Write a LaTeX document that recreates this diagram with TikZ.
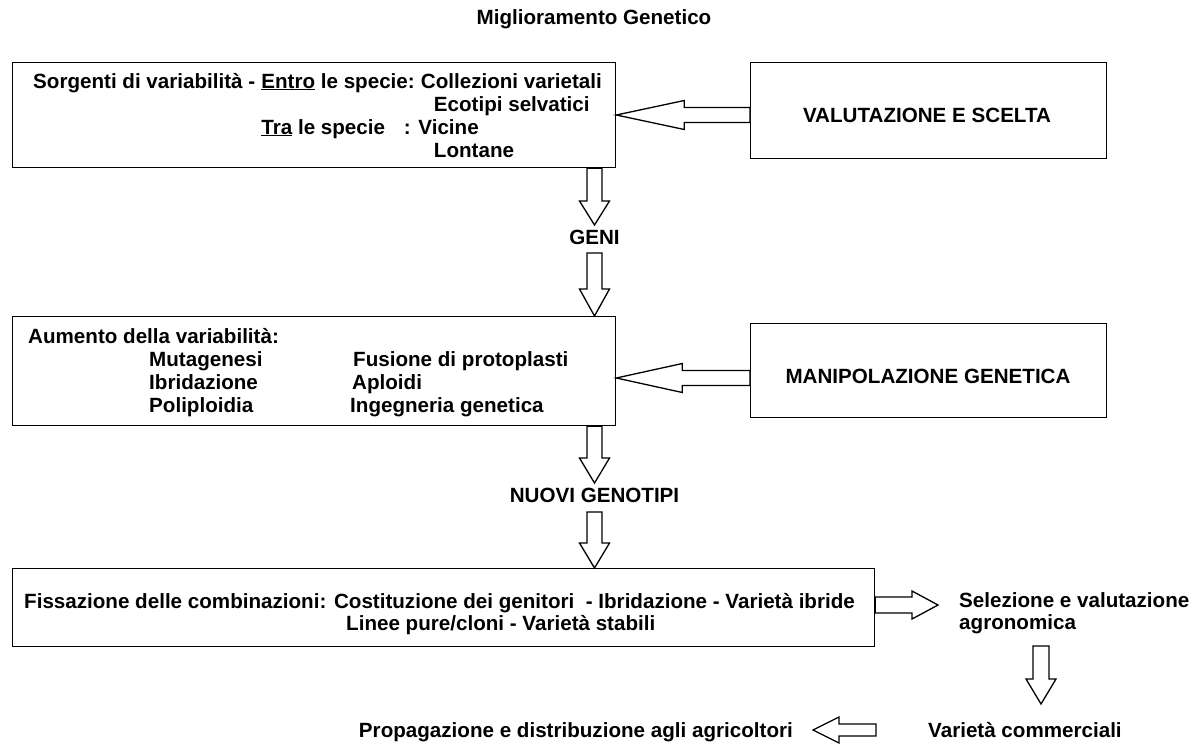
\documentclass[tikz,border=0pt]{standalone}
\usepackage{fontspec}
\setmainfont{Liberation Sans}
\usetikzlibrary{calc}
\newcommand\hollowarrow[5]{%
 \draw[barrow] let \p1=(#1), \p2=(#2), \n1={atan2(\y2-\y1,\x2-\x1)}, \n2={veclen(\x2-\x1,\y2-\y1)-#3} in
 ($(\p1)+(\n1+90:#5pt)$) -- ($(\p1)+(\n1:{\n2*1pt})+(\n1+90:#5pt)$) -- ($(\p1)+(\n1:{\n2*1pt})+(\n1+90:#4pt)$) -- (\p2) -- ($(\p1)+(\n1:{\n2*1pt})+(\n1-90:#4pt)$) -- ($(\p1)+(\n1:{\n2*1pt})+(\n1-90:#5pt)$) -- ($(\p1)+(\n1-90:#5pt)$) -- cycle;}
\def\spw{5.73pt}
\tikzset{
 txt/.style={inner sep=0pt, anchor=base west, font=\bfseries\fontsize{20.6}{23}\selectfont},
 ctxt/.style={inner sep=0pt, anchor=center, font=\bfseries\fontsize{20.6}{23}\selectfont},
 boxst/.style={draw, line width=1.3pt, inner sep=0pt, anchor=north west},
 barrow/.style={draw, line width=1.3pt, fill=white, line join=miter},
}
\begin{document}
\begin{tikzpicture}[x=1pt, y=-1pt]
\useasboundingbox (0,0) rectangle (1199,744);
% title
\node[txt, anchor=base] (title) at (594,24) {Miglioramento Genetico};
% boxes
\node[boxst, minimum width=603pt, minimum height=105pt] (b1) at (12,62) {};
\node[boxst, minimum width=356pt, minimum height=96pt] (val) at (750,62) {};
\node[boxst, minimum width=603pt, minimum height=109pt] (b2) at (12,316) {};
\node[boxst, minimum width=356pt, minimum height=94pt] (man) at (750,323) {};
\node[boxst, minimum width=862pt, minimum height=78pt] (b3) at (12,568) {};
% box 1 text
\node[txt] (s1) at (33,88) {Sorgenti di variabilità -};
\node[txt] (s2) at ([xshift=\spw]s1.base east) {\underline{Entro} le specie:};
\node[txt] (s3) at ([xshift=\spw]s2.base east) {Collezioni varietali};
\node[txt] (s4) at ($(s3.base west |- 0,111)+(13pt,0)$) {Ecotipi selvatici};
\node[txt] (s5) at (s2.base west |- 0,134) {\underline{Tra} le specie};
\node[txt] (s6) at ($(s3.base west |- 0,134)+(-17pt,0)$) {: Vicine};
\node[txt] (s7) at (s4.base west |- 0,157) {Lontane};
% right texts
\node[ctxt] (valt) at (927,115) {VALUTAZIONE E SCELTA};
\node[ctxt] (mant) at (928,376) {MANIPOLAZIONE GENETICA};
% box 2 text
\node[txt] (m0) at (28,343) {Aumento della variabilità:};
\node[txt] (m1) at (149,366) {Mutagenesi};
\node[txt] (m2) at (149,389) {Ibridazione};
\node[txt] (m3) at (149,412) {Poliploidia};
\node[txt] (m4) at (353,366) {Fusione di protoplasti};
\node[txt] (m5) at (352,389) {Aploidi};
\node[txt] (m6) at (350,412) {Ingegneria genetica};
% box 3 text
\node[txt] (f1) at (24,608) {Fissazione delle combinazioni: Costituzione dei genitori\ \ - Ibridazione - Varietà ibride};
\node[txt] (f2) at (346,630) {Linee pure/cloni - Varietà stabili};
% middle labels
\node[ctxt] (geni) at (594.5,237) {GENI};
\node[ctxt] (nuovi) at (594.5,495) {NUOVI GENOTIPI};
% right column
\node[txt] (sel1) at (959,607) {Selezione e valutazione};
\node[txt] (sel2) at (959,629) {agronomica};
\node[txt] (varc) at (928,737) {Varietà commerciali};
\node[txt, anchor=base east] (prop) at (793,737) {Propagazione e distribuzione agli agricoltori};
% arrows
\hollowarrow{val.west |- 0,115}{b1.east |- 0,115}{68}{14.5}{7.5}
\hollowarrow{man.west |- 0,378}{b2.east |- 0,378}{66}{14.5}{7.5}
\hollowarrow{b1.south -| 594.5,0}{geni.north |- 0,225}{24}{15}{7.5}
\hollowarrow{geni.south |- 0,253}{b2.north -| 594.5,0}{27}{15}{7.5}
\hollowarrow{b2.south -| 594.5,0}{nuovi.north |- 0,483}{25}{15}{7.5}
\hollowarrow{nuovi.south |- 0,512}{b3.north -| 594.5,0}{25}{15}{7.5}
\hollowarrow{b3.east |- 0,605}{938,605}{26}{14}{8}
\hollowarrow{1041,646}{1041,704}{25}{15}{8}
\hollowarrow{876,730}{813,730}{26}{13}{6}
\end{tikzpicture}
\end{document}
